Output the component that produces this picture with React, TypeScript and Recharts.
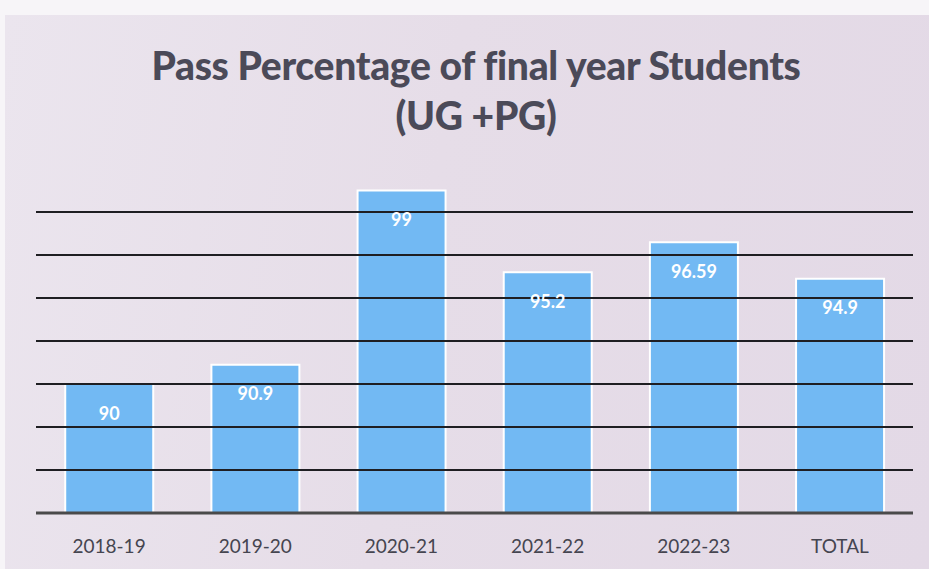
import { BarChart, Bar, XAxis, YAxis, ReferenceLine, LabelList } from "recharts";

const YEARS = ["2018-19", "2019-20", "2020-21", "2021-22", "2022-23", "TOTAL"];
const PASS_PCT = [90, 90.9, 99, 95.2, 96.59, 94.9];
const Y_TICKS = [84, 86, 88, 90, 92, 94, 96, 98];

const data = YEARS.map((year, i) => ({ year, pct: PASS_PCT[i] }));

export default function App() {
  return (
    <div
      style={{
        position: "absolute",
        left: 0,
        top: 0,
        width: 929,
        height: 569,
        background: "#f7f5f8",
        overflow: "hidden",
      }}
    >
      <div
        style={{
          position: "absolute",
          left: 5,
          top: 15,
          width: 924,
          height: 554,
          background: "linear-gradient(100deg, #ebe5ee 0%, #e6dde8 45%, #e3d9e6 100%)",
        }}
      />
      <div
        style={{
          position: "absolute",
          left: 0,
          top: 40,
          width: 952,
          textAlign: "center",
          fontFamily: "Lato, 'Open Sans', sans-serif",
          fontWeight: 900,
          fontSize: 39,
          lineHeight: "50px",
          letterSpacing: "-0.3px",
          color: "#4b4a58",
        }}
      >
        Pass Percentage of final year Students
        <br />
        (UG +PG)
      </div>
      <div style={{ position: "absolute", left: 0, top: 0 }}>
        <BarChart
          width={929}
          height={569}
          data={data}
          margin={{ top: 169, right: 16, bottom: 0, left: 36 }}
          barCategoryGap="20%"
        >
          <XAxis
            dataKey="year"
            height={56}
            axisLine={{ stroke: "#4a4a4a", strokeWidth: 3 }}
            tickLine={false}
            tickMargin={21}
            tick={{ fill: "#454550", fontSize: 19, fontFamily: "Lato, 'Open Sans', sans-serif" }}
          />
          <YAxis hide domain={[84, 100]} ticks={Y_TICKS} />
          <Bar dataKey="pct" fill="#72b9f3" stroke="#ffffff" strokeWidth={2} isAnimationActive={false}>
            <LabelList
              dataKey="pct"
              position="insideTop"
              offset={23}
              fill="#ffffff"
              fontSize={18}
              fontWeight={700}
              fontFamily="Lato, 'Open Sans', sans-serif"
            />
          </Bar>
          {Y_TICKS.slice(1).map((v) => (
            <ReferenceLine key={v} y={v} stroke="#1e1e22" strokeWidth={2} />
          ))}
        </BarChart>
      </div>
    </div>
  );
}
